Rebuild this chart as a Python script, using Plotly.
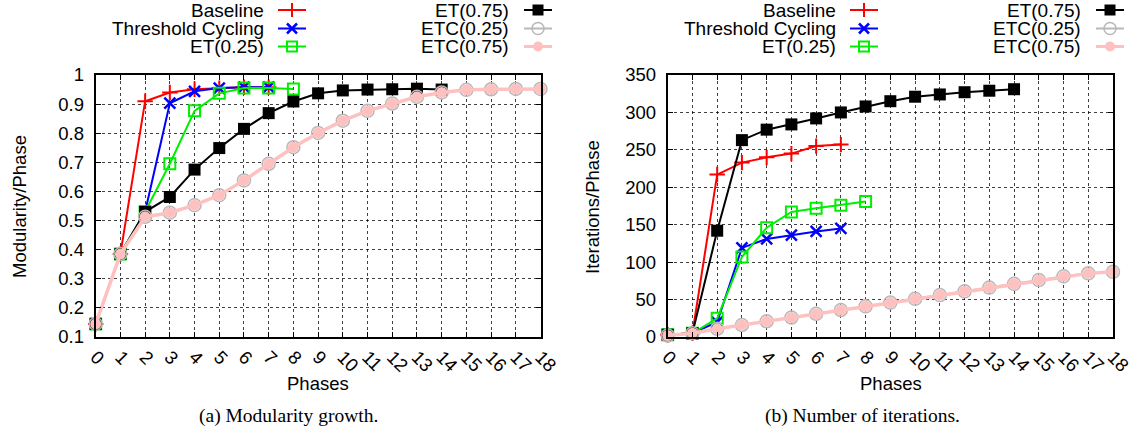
import plotly.graph_objects as go

# ---------------- data ----------------
phases = list(range(19))
tick_labels = [str(i) for i in phases]

# (a) Modularity per phase
mod_baseline = [0.145, 0.385, 0.91, 0.94, 0.951, 0.955, 0.958, 0.958]
mod_tc = [0.145, 0.385, 0.53, 0.903, 0.944, 0.955, 0.958, 0.958]
mod_et025 = [0.145, 0.385, 0.53, 0.695, 0.877, 0.937, 0.955, 0.955, 0.952]
mod_et075 = [0.145, 0.385, 0.53, 0.581, 0.675, 0.749, 0.815, 0.869, 0.909, 0.937,
             0.947, 0.95, 0.951, 0.953, 0.95]
mod_etc025 = [0.145, 0.385, 0.513, 0.527, 0.553, 0.587, 0.638, 0.695, 0.752, 0.801,
              0.843, 0.877, 0.902, 0.925, 0.94, 0.949, 0.951, 0.952, 0.952]
mod_etc075 = [0.145, 0.385, 0.513, 0.527, 0.553, 0.587, 0.638, 0.695, 0.752, 0.801,
              0.843, 0.877, 0.902, 0.925, 0.94, 0.949, 0.951, 0.952, 0.952]

# (b) Iterations per phase
it_baseline = [3, 5, 217, 233, 240, 245, 255, 257]
it_tc = [3, 5, 20, 119, 131, 136, 141, 145]
it_et025 = [3, 5, 25, 107, 146, 167, 172, 176, 181]
it_et075 = [3, 5, 142, 263, 277, 284, 292, 300, 308, 315, 321, 324, 327, 329, 331]
it_etc025 = [2, 5, 11, 16, 21, 26, 31, 36, 41, 46, 51, 56, 61, 66, 71, 76, 81, 85, 87]
it_etc075 = [2, 5, 11, 16, 21, 26, 31, 36, 41, 46, 51, 56, 61, 66, 71, 76, 81, 85, 87]

series_names = ["Baseline", "Threshold Cycling", "ET(0.25)", "ET(0.75)", "ETC(0.25)", "ETC(0.75)"]
mod_series = [mod_baseline, mod_tc, mod_et025, mod_et075, mod_etc025, mod_etc075]
it_series = [it_baseline, it_tc, it_et025, it_et075, it_etc025, it_etc075]

# ---------------- styles ----------------
FONT = "Liberation Sans, Arial, Helvetica, sans-serif"
SERIF = "Liberation Serif, Times New Roman, serif"
styles = [
    dict(color="#ff0000", symbol="cross-thin", size=11, lw=2, mlw=2, mcolor="#ff0000", mline="#ff0000"),
    dict(color="#0000ff", symbol="x-thin", size=11, lw=2, mlw=2.5, mcolor="#0000ff", mline="#0000ff"),
    dict(color="#00ee00", symbol="square-open", size=11, lw=2, mlw=2, mcolor="#00ee00", mline="#00ee00"),
    dict(color="#000000", symbol="square", size=12, lw=2, mlw=0, mcolor="#000000", mline="#000000"),
    dict(color="#b8b8b8", symbol="circle-open", size=13, lw=2, mlw=1.5, mcolor="#b8b8b8", mline="#b8b8b8"),
    dict(color="#ffc0c0", symbol="circle", size=11, lw=3.5, mlw=0, mcolor="#ffc0c0", mline="#ffc0c0"),
]

fig = go.Figure()

def add_series(data_list, xa, ya):
    for name, vals, st in zip(series_names, data_list, styles):
        fig.add_trace(go.Scatter(
            x=phases[:len(vals)], y=vals, name=name, mode="lines+markers",
            line=dict(color=st["color"], width=st["lw"]),
            marker=dict(symbol=st["symbol"], size=st["size"], color=st["mcolor"],
                        line=dict(color=st["mline"], width=st["mlw"])),
            xaxis=xa, yaxis=ya, showlegend=False, hoverinfo="x+y+name", cliponaxis=False))

add_series(mod_series, "x", "y")
add_series(it_series, "x2", "y2")

# ---------------- custom legends (text left of sample, gnuplot style) ----------------
W, H = 1136, 433
rows_y = [10, 28.5, 46.5]
col_text_right = [266, 511]
col_line = [(278, 306), (524, 552)]
chart_offset = [0, 572]

annotations = []
for off in chart_offset:
    for i, (name, st) in enumerate(zip(series_names, styles)):
        col, row = divmod(i, 3)
        y = rows_y[row]
        annotations.append(dict(
            x=(col_text_right[col] + off) / W, y=1 - y / H, xref="paper", yref="paper",
            text=name, showarrow=False, xanchor="right", yanchor="middle",
            font=dict(family=FONT, size=19, color="#000")))
        x0, x1 = col_line[col]
        fig.add_trace(go.Scatter(
            x=[x0 + off, x1 + off], y=[y, y], mode="lines",
            line=dict(color=st["color"], width=2 if i != 5 else 3),
            xaxis="x3", yaxis="y3", showlegend=False, hoverinfo="skip"))
        fig.add_trace(go.Scatter(
            x=[(x0 + x1) / 2 + off], y=[y], mode="markers",
            marker=dict(symbol=st["symbol"], size=st["size"] - 1, color=st["mcolor"],
                        line=dict(color=st["mline"], width=st["mlw"])),
            xaxis="x3", yaxis="y3", showlegend=False, hoverinfo="skip"))

# ---------------- axis titles and captions ----------------
def ann(x, y, text, size=18.5, family=FONT, angle=0):
    annotations.append(dict(x=x / W, y=1 - y / H, xref="paper", yref="paper", text=text,
                            showarrow=False, xanchor="center", yanchor="middle",
                            textangle=angle, font=dict(family=family, size=size, color="#000")))

ann(19, 207, "Modularity/Phase", angle=-90)
ann(592, 207, "Iterations/Phase", angle=-90)
ann(318, 383, "Phases")
ann(891, 383, "Phases")
ann(288, 416, "(a) Modularity growth.", size=19.5, family=SERIF)
ann(862, 416, "(b) Number of iterations.", size=19.5, family=SERIF)

# ---------------- axes ----------------
top, bottom = 75, 337
ydom = [1 - bottom / H, 1 - top / H]

common_x = dict(range=[0, 18], tickmode="array", tickvals=phases, ticktext=tick_labels,
                tickangle=45, showgrid=True, gridcolor="rgba(0,0,0,0.75)", griddash="dot",
                gridwidth=1, showline=True, linecolor="#000", linewidth=2, mirror="ticks",
                ticks="inside", ticklen=5, tickcolor="#000", zeroline=False, automargin=False,
                tickfont=dict(family=FONT, size=18.5, color="#000"))
common_y = dict(showgrid=True, gridcolor="rgba(0,0,0,0.75)", griddash="dot", gridwidth=1,
                showline=True, linecolor="#000", linewidth=2, mirror="ticks",
                ticks="inside", ticklen=5, tickcolor="#000", zeroline=False, automargin=False,
                tickfont=dict(family=FONT, size=18.5, color="#000"), ticklabelstandoff=6)

fig.update_layout(
    template="none",
    width=W, height=H, autosize=False,
    margin=dict(l=0, r=0, t=0, b=0, pad=0),
    paper_bgcolor="white", plot_bgcolor="rgba(0,0,0,0)",
    showlegend=False,
    xaxis=dict(domain=[95.7 / W, 540.5 / W], anchor="y", **common_x),
    yaxis=dict(domain=ydom, anchor="x", range=[0.1, 1], tickmode="array",
               tickvals=[0.1, 0.2, 0.3, 0.4, 0.5, 0.6, 0.7, 0.8, 0.9, 1.0],
               ticktext=["0.1", "0.2", "0.3", "0.4", "0.5", "0.6", "0.7", "0.8", "0.9", "1"],
               **common_y),
    xaxis2=dict(domain=[667.7 / W, 1113 / W], anchor="y2", **common_x),
    yaxis2=dict(domain=ydom, anchor="x2", range=[0, 350], dtick=50, **common_y),
    xaxis3=dict(domain=[0, 1], range=[0, W], visible=False, anchor="y3", fixedrange=True,
                automargin=False),
    yaxis3=dict(domain=[0, 1], range=[H, 0], visible=False, anchor="x3", fixedrange=True,
                automargin=False),
    annotations=annotations,
)

fig.write_html(
    "out.html",
    config={"displayModeBar": False},
    post_script="document.body.style.margin='0';document.body.style.padding='0';"
                "document.documentElement.style.overflow='hidden';",
)
